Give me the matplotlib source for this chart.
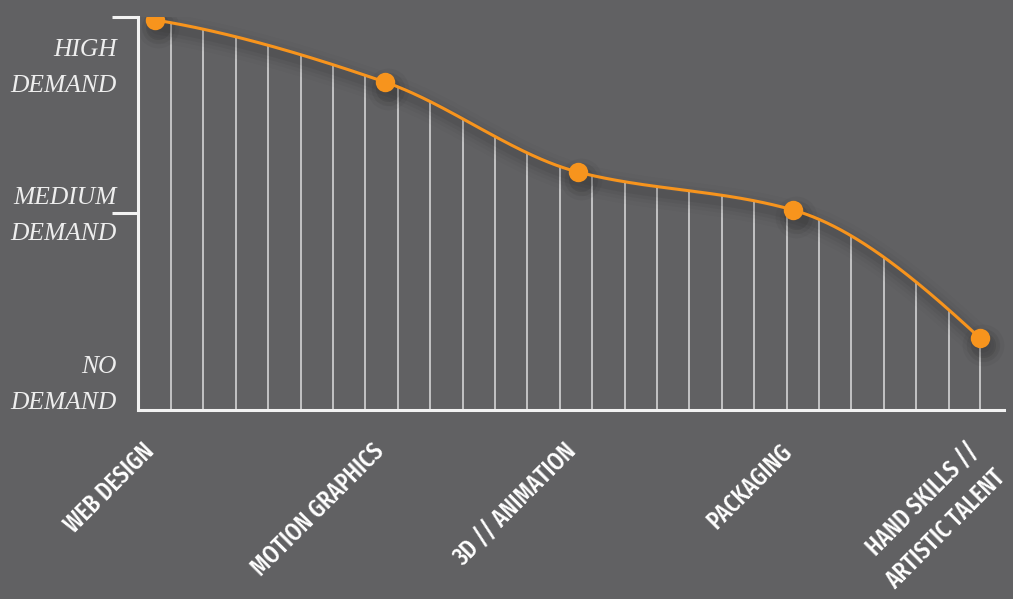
import numpy as np
import matplotlib
matplotlib.use("Agg")
import matplotlib.pyplot as plt
from matplotlib import font_manager as fm
from matplotlib.transforms import offset_copy

# ---------------- data ----------------
categories = ["WEB DESIGN", "MOTION GRAPHICS", "3D // ANIMATION", "PACKAGING",
              "HAND SKILLS //\nARTISTIC TALENT"]
positions = [0.0, 2.30, 4.23, 6.38, 8.25]
demand = [1.985, 1.669, 1.211, 1.018, 0.366]

level_labels = ["NO\nDEMAND", "MEDIUM\nDEMAND", "HIGH\nDEMAND"]
level_label_y = [0.005, 0.865, 1.618]   # baseline of last line
tick_values = [1, 2]

BG = "#616163"
ORANGE = "#F7941D"
WHITE = "#f2f2f2"
HATCH = "#d4d4d4"


def pchip(x, y, xs):
    x = np.asarray(x, float); y = np.asarray(y, float)
    h = np.diff(x); s = np.diff(y) / h
    n = len(x)
    d = np.zeros(n)
    for k in range(1, n - 1):
        if s[k - 1] * s[k] <= 0:
            d[k] = 0
        else:
            w1 = 2 * h[k] + h[k - 1]
            w2 = h[k] + 2 * h[k - 1]
            d[k] = (w1 + w2) / (w1 / s[k - 1] + w2 / s[k])

    def end(h0, h1, s0, s1):
        v = ((2 * h0 + h1) * s0 - h0 * s1) / (h0 + h1)
        if np.sign(v) != np.sign(s0):
            return 0.0
        if np.sign(s0) != np.sign(s1) and abs(v) > 3 * abs(s0):
            return 3 * s0
        return v

    d[0] = end(h[0], h[1], s[0], s[1])
    d[-1] = end(h[-1], h[-2], s[-1], s[-2])
    xs = np.asarray(xs, float)
    i = np.clip(np.searchsorted(x, xs) - 1, 0, n - 2)
    t = (xs - x[i]) / h[i]
    h00 = 2 * t ** 3 - 3 * t ** 2 + 1
    h10 = t ** 3 - 2 * t ** 2 + t
    h01 = -2 * t ** 3 + 3 * t ** 2
    h11 = t ** 3 - t ** 2
    return h00 * y[i] + h10 * h[i] * d[i] + h01 * y[i + 1] + h11 * h[i] * d[i + 1]


# ---------------- fonts ----------------
def _weight(w):
    if isinstance(w, (int, float)):
        return float(w)
    table = {"ultralight": 200, "light": 300, "normal": 400, "regular": 400, "book": 400,
             "medium": 500, "semibold": 600, "demibold": 600, "bold": 700,
             "heavy": 800, "extra bold": 800, "black": 900}
    return float(table.get(str(w).lower(), 400))


def pick_condensed():
    best, best_score = None, 1e9
    for f in fm.fontManager.ttflist:
        base = f.fname.split("/")[-1]
        key = (base + " " + f.name).lower()
        if f.style != "normal" or "italic" in key or "oblique" in key:
            continue
        if "extracondensed" in key or "extra condensed" in key or "ultracondensed" in key:
            st = 0
        elif "semicondensed" in key or "semi condensed" in key:
            st = 15
        elif "condensed" in key or "narrow" in key or "compressed" in key:
            st = 5
        elif str(f.stretch) in ("condensed", "extra-condensed", "ultra-condensed"):
            st = 5
        else:
            continue
        score = st + abs(_weight(f.weight) - 500) / 50
        if "mono" in key:
            score += 100
        if "serif" in key and "sans" not in key:
            score += 50
        if score < best_score:
            best, best_score = f.fname, score
    if best is None:
        return fm.FontProperties(family="DejaVu Sans", weight="bold")
    return fm.FontProperties(fname=best)


cond_fp = pick_condensed()
serif_fp = fm.FontProperties(family=["Liberation Serif", "DejaVu Serif"], style="italic")

# ---------------- figure ----------------
fig = plt.figure(figsize=(10.13, 5.99), dpi=100, facecolor=BG)
W, H = 1013, 599
ax = fig.add_axes([138 / W, (H - 410) / H, 866 / W, 393 / H])
ax.set_facecolor(BG)
ax.set_xlim(-0.17, 8.49)
ax.set_ylim(0, 2)

fig.canvas.draw()
r = fig.canvas.get_renderer()

# size fonts from reference measures
t = fig.text(0, 0, "3D // ANIMATION", fontproperties=cond_fp, fontsize=20)
cond_size = 20 * 162 / t.get_window_extent(r).width
t.remove()
t = fig.text(0, 0, "DEMAND", fontproperties=serif_fp, fontsize=20)
serif_size = 20 * 106 / t.get_window_extent(r).width
t.remove()
fp_sized = cond_fp.copy(); fp_sized.set_size(cond_size)
_, lp_h, lp_d = r.get_text_width_height_descent("lp", fp_sized, ismath=False)
asc = lp_h - lp_d

# curve
xs = np.linspace(positions[0], positions[-1], 600)
ys = pchip(positions, demand, xs)

# hatch lines from axis to curve
hx = np.linspace(0.16, 8.26, 26)
hx = np.clip(hx, positions[0], positions[-1])
ax.vlines(hx, 0, pchip(positions, demand, hx), color=HATCH, lw=1.2, zorder=2)

# shadow
sh = offset_copy(ax.transData, fig=fig, x=3, y=-7, units="dots")
for lw, a in [(22, 0.018), (16, 0.028), (11, 0.038), (6, 0.05)]:
    ax.plot(xs, ys, color="black", lw=lw, alpha=a, transform=sh,
            solid_capstyle="round", zorder=3)
for ms, a in [(30, 0.035), (24, 0.055), (18, 0.08)]:
    ax.plot(positions, demand, "o", ms=ms, color="black", alpha=a, mew=0,
            transform=sh, zorder=3)

ax.plot(xs, ys, color=ORANGE, lw=2.2, zorder=4, solid_capstyle="round")
ax.plot(positions, demand, "o", ms=14, color=ORANGE, mew=0, zorder=5)

# axes styling
for s in ["top", "right"]:
    ax.spines[s].set_visible(False)
for s in ["left", "bottom"]:
    ax.spines[s].set_color(WHITE)
    ax.spines[s].set_linewidth(2.2)
    ax.spines[s].set_zorder(6)
ax.spines["left"].set_bounds(0, 2)
ax.set_xticks([])
ax.set_yticks(tick_values)
ax.set_yticklabels([])
ax.tick_params(axis="y", length=19, width=2.2, color=WHITE, direction="out")

# level labels
ytr = offset_copy(ax.get_yaxis_transform(), fig=fig, x=-21, y=0, units="dots")
for lab, yv in zip(level_labels, level_label_y):
    ax.text(0, yv, lab, transform=ytr, ha="right", va="baseline",
            multialignment="right", fontproperties=serif_fp, fontsize=serif_size,
            color="#eeeeee", linespacing=1.85)

# category labels: first line's baseline end sits under the marker
k = 0.7071
ctr = offset_copy(ax.transData, fig=fig, x=-k * asc, y=-43 + k * asc, units="dots")
for lab, xv in zip(categories, positions):
    ax.text(xv, 0, lab, transform=ctr, rotation=45, rotation_mode="anchor",
            ha="right", va="top", multialignment="right",
            fontproperties=cond_fp, fontsize=cond_size, color="white",
            linespacing=1.6)

fig.savefig("out.png", dpi=100, facecolor=BG)
